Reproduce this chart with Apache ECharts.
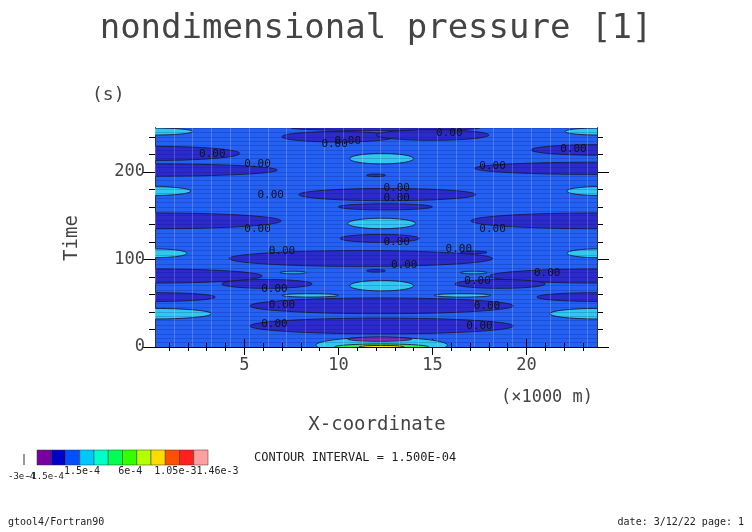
<!DOCTYPE html>
<html><head><meta charset="utf-8">
<script src="https://cdn.jsdelivr.net/npm/echarts@6/dist/echarts.min.js"></script>
<style>html,body{margin:0;padding:0;background:#fff}#c{width:752px;height:532px}</style>
</head><body><div id="c"></div>
<script>
var xMajor=[5,10,15,20];
var xMinor=[1,2,3,4,6,7,8,9,11,12,13,14,16,17,18,19,21,22,23];
var yMajor=[0,100,200];
var yMinor=[20,40,60,80,120,140,160,180,220,240];
// regions: [xCenter, yCenter, xHalfWidth, yHalfHeight, level]
var darkRegions=[
 [12.5,250,5,3,1],[10,240,3,6,1],[15,242,3,6,1],
 [0.25,221,4.5,8,1],[23.75,225,3.5,6,1],
 [0.25,202,6.5,7,1],[23.75,204,6.5,7,1],
 [12.6,174,4.7,7,1],[12.5,160,2.5,3.5,1],
 [0.25,144,6.7,9,1],[23.75,144,6.7,9,1],
 [12.2,124,2.1,4.5,1],
 [11.2,101,7,9,1],
 [0.25,81,5.7,8,1],[6.2,72,2.4,5,1],[23.75,81,5.7,8,1],[18.6,72,2.4,5,1],
 [0.25,57,3.2,5,1],[23.75,57,3.2,5,1],
 [12.3,47,7,9,1],[12.3,24,7,9,1],
 [12,196,0.5,1.5,1],[12,87,0.5,1.5,1],[17.2,108,0.7,1.5,1]
];
var lightRegions=[
 [0.25,246,2,4,3],[23.75,246,1.7,4,3],
 [12.3,215,1.7,6,3],
 [0.25,178,1.9,5,3],[23.75,178,1.6,5,3],
 [12.3,141,1.8,6,3],
 [0.25,107,1.7,5,3],[23.75,107,1.6,5,3],
 [12.3,70,1.7,6,3],
 [7.6,85,0.7,1.5,3],[17.2,85,0.7,1.5,3],
 [8.5,59,1.5,2,3],[16.6,59,1.5,2,3],
 [0.25,38,3,6,3],[23.75,38,2.5,6,3],
 [12.3,2,3.5,9,3],[12.3,0,2.5,3.5,5],[12.3,0,1.2,1.8,8],[12.2,9,1.7,2.5,0]
];
var labelPos=[[15.9,244],[9.8,232],[10.5,235],[3.3,220],[22.5,226],[5.7,209],[18.2,207],[6.4,173],
 [13.1,181],[13.1,170],[5.7,134],[18.2,134],[13.1,120],[7,109],[16.4,112],[13.5,94],[21.1,84],
 [17.4,75],[6.6,66],[7,48],[17.9,47],[6.6,26],[17.5,24]];
var levelColors=['#8a2ab6','#2b2bcc','#2460f2','#30c8f2','#00ffc8','#30f050','#32ff00','#b4ff00','#ffdc00','#ff5000','#ff2020','#ffa0a0'];
var barColors=['#7800a0','#0000c8','#0050ff','#00c8ff','#00ffc8','#00ff50','#32ff00','#b4ff00','#ffdc00','#ff5000','#ff2020','#ffa0a0'];

var F='DejaVu Sans Mono';
function ax(pos,vals,len,labels,extra){
  var o={type:'value',position:pos,min:pos==='bottom'||pos==='top'?0.25:0,max:pos==='bottom'||pos==='top'?23.75:250,
   axisLine:{show:true,lineStyle:{color:'#000',width:1}},
   axisTick:{show:true,customValues:vals,length:len,lineStyle:{color:'#000'}},
   axisLabel:labels?{show:true,customValues:vals,fontFamily:F,fontSize:17,color:'#444',margin:10}:{show:false},
   splitLine:{show:false}};
  return Object.assign(o,extra||{});
}
var chart=echarts.init(document.getElementById('c'));
function ell(params,api){
  var p=api.coord([api.value(0),api.value(1)]);
  var s=api.size([api.value(2),api.value(3)]);
  return {type:'ellipse',shape:{cx:p[0],cy:p[1],rx:s[0],ry:s[1]},
    style:{fill:levelColors[api.value(4)],stroke:'#1a1a3a',lineWidth:0.9}};
}
var barG=barColors.map(function(c,i){return {type:'rect',shape:{x:37+i*14.25,y:450,width:14.25,height:15},style:{fill:c,stroke:'#333',lineWidth:0.5}};});
chart.setOption({
  animation:false,
  grid:{left:155,right:155,top:128,bottom:185,show:true,backgroundColor:'#2460f2',borderWidth:0},
  xAxis:[
    ax('bottom',xMajor,8,true),
    ax('bottom',xMinor,4,false),
    ax('top',xMajor,8,false),
    ax('top',xMinor,4,false),
    {type:'value',min:0.25,max:23.75,show:true,position:'bottom',z:3,axisLine:{show:false},axisTick:{show:false},axisLabel:{show:false},
     splitLine:{show:true,lineStyle:{color:'rgba(255,255,255,0.2)',width:1}},interval:1}
  ],
  yAxis:[
    ax('left',yMajor,12,true),
    ax('left',yMinor,6,false),
    ax('right',yMajor,12,false),
    ax('right',yMinor,6,false),
    {type:'value',min:0,max:250,interval:5,z:3,axisLine:{show:false},axisTick:{show:false},axisLabel:{show:false},
     splitLine:{show:true,lineStyle:{color:'rgba(0,0,90,0.18)',width:1}}}
  ],
  series:[
    {type:'custom',clip:true,renderItem:ell,data:darkRegions,z:2},
    {type:'custom',clip:true,renderItem:ell,data:lightRegions,z:2},
    {type:'custom',clip:true,z:4,data:labelPos,renderItem:function(p,api){
      var c=api.coord([api.value(0),api.value(1)]);
      return {type:'text',style:{text:'0.00',x:c[0],y:c[1],align:'center',verticalAlign:'middle',font:'11px '+F,fill:'#111'}};}}
  ],
  graphic:[
    {type:'text',left:'center',top:12,style:{text:'nondimensional pressure [1]',font:'34px '+F,fill:'#444'}},
    {type:'text',left:92,top:86,style:{text:'(s)',font:'18px '+F,fill:'#444'}},
    {type:'text',x:72,y:238,rotation:Math.PI/2,style:{text:'Time',font:'19px '+F,fill:'#444',align:'center',verticalAlign:'middle'}},
    {type:'text',x:377,y:425,style:{text:'X-coordinate',font:'19px '+F,fill:'#444',align:'center',verticalAlign:'middle'}},
    {type:'text',x:547,y:398,style:{text:'(×1000 m)',font:'17px '+F,fill:'#444',align:'center',verticalAlign:'middle'}},
    {type:'line',shape:{x1:24,y1:454,x2:24,y2:465},style:{stroke:'#333',lineWidth:1}},
    {type:'group',children:barG},
    {type:'text',x:8,y:472,style:{text:'-3e-4',font:'9px '+F,fill:'#222'}},
    {type:'text',x:26,y:472,style:{text:'-1.5e-4',font:'9px '+F,fill:'#222'}},
    {type:'text',x:64,y:466,style:{text:'1.5e-4   6e-4  1.05e-31.46e-3',font:'10px '+F,fill:'#222'}},
    {type:'text',x:254,y:452,style:{text:'CONTOUR INTERVAL = 1.500E-04',font:'12px '+F,fill:'#222'}},
    {type:'text',x:8,y:517,style:{text:'gtool4/Fortran90',font:'10px '+F,fill:'#222'}},
    {type:'text',x:744,y:517,style:{text:'date: 3/12/22 page: 1',font:'10px '+F,fill:'#222',align:'right'}}
  ]
});
</script></body></html>
